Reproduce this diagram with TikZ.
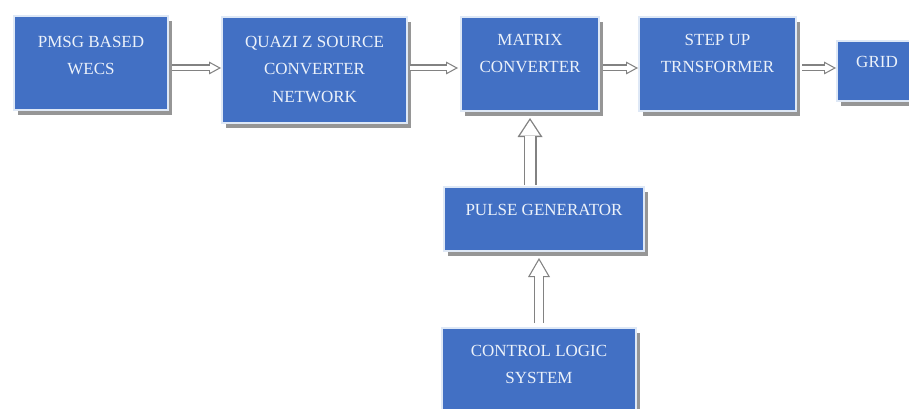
\documentclass[tikz,border=0pt]{standalone}
\usepackage{fontspec}
\setmainfont{Liberation Serif}
\usetikzlibrary{arrows.meta,shadows}

\definecolor{boxblue}{RGB}{66,112,196}
\definecolor{boxedge}{RGB}{222,232,246}
\definecolor{boxtext}{RGB}{236,242,250}
\definecolor{shadowgray}{RGB}{150,150,150}
\definecolor{arrowgray}{RGB}{130,130,130}

\tikzset{
  block/.style={rectangle, fill=boxblue, draw=boxedge, line width=2.5pt,
    inner sep=0pt, outer sep=0pt,
    drop shadow={shadow xshift=4pt, shadow yshift=-5pt, fill=shadowgray, opacity=1}},
  blocktext/.style={anchor=north, inner sep=0pt, text=boxtext, align=center,
    font=\fontsize{17}{27.5}\selectfont},
  flow/.style={draw=arrowgray, line width=7pt,
    -{Triangle[length=12pt,width=13pt,line width=0pt]},
    postaction={draw=white, line width=4.6pt,
      -{Triangle[length=8.3pt,width=9pt,sep=2.5pt,line width=0pt]}}},
  bigflow/.style={draw=arrowgray, line width=13pt,
    -{Triangle[length=19pt,width=25pt,line width=0pt]},
    postaction={draw=white, line width=10.4pt,
      -{Triangle[length=15.3pt,width=20pt,sep=2.4pt,line width=0pt]}}},
  midflow/.style={draw=arrowgray, line width=10pt,
    -{Triangle[length=19pt,width=22pt,line width=0pt]},
    postaction={draw=white, line width=7.6pt,
      -{Triangle[length=15.4pt,width=17.8pt,sep=2.4pt,line width=0pt]}}}
}

\begin{document}
\begin{tikzpicture}[x=1pt,y=-1pt]

   \useasboundingbox (0,0) rectangle (909,409);
   \clip (0,0) rectangle (909,409);

   % top row
   \node[block, minimum width=154pt, minimum height=94pt] (pmsg) at (91,63) {};
   \node[block, minimum width=185pt, minimum height=106pt] (quazi) at (314.5,70) {};
   \node[block, minimum width=138pt, minimum height=94pt] (matrix) at (530,64) {};
   \node[block, minimum width=157pt, minimum height=94pt] (stepup) at (717.5,64) {};
   \node[block, minimum width=80pt, minimum height=60pt] (grid) at (877,71) {};

   % control chain
   \node[block, minimum width=200pt, minimum height=64pt] (pulse) at (544,219) {};
   \node[block, minimum width=194pt, minimum height=85pt] (control) at (539,370.5) {};

   \node[blocktext] (pmsg-txt) at ([yshift=-20pt]pmsg.north) {PMSG BASED\\WECS};
   \node[blocktext] (quazi-txt) at ([yshift=-19pt]quazi.north) {QUAZI Z SOURCE\\CONVERTER\\NETWORK};
   \node[blocktext] (matrix-txt) at ([yshift=-17pt]matrix.north) {MATRIX\\CONVERTER};
   \node[blocktext] (stepup-txt) at ([yshift=-17pt]stepup.north) {STEP UP\\TRNSFORMER};
   \node[blocktext] (grid-txt) at ([yshift=-15pt]grid.north) {GRID};
   \node[blocktext] (pulse-txt) at ([yshift=-17pt]pulse.north) {PULSE GENERATOR};
   \node[blocktext] (control-txt) at ([yshift=-17pt]control.north) {CONTROL LOGIC\\SYSTEM};

   \draw[flow, shorten <=4pt, shorten >=1pt] ([yshift=-5pt]pmsg.east) -- ([yshift=-5pt]pmsg.east -| quazi.west);
   \draw[flow, shorten <=3pt, shorten >=3pt] ([yshift=2pt]quazi.east) -- ([yshift=2pt]quazi.east -| matrix.west);
   \draw[flow, shorten <=4pt, shorten >=1pt] ([yshift=-4pt]matrix.east) -- ([yshift=-4pt]matrix.east -| stepup.west);
   \draw[flow, shorten <=6pt, shorten >=1pt] ([yshift=-4pt]stepup.east) -- ([yshift=-4pt]stepup.east -| grid.west);

   \draw[bigflow, shorten <=2pt, shorten >=7pt] (pulse.north -| matrix.south) -- (matrix.south);
   \draw[midflow, shorten <=5pt, shorten >=7pt] (control.north) -- (control.north |- pulse.south);
  \end{tikzpicture}
\end{document}
